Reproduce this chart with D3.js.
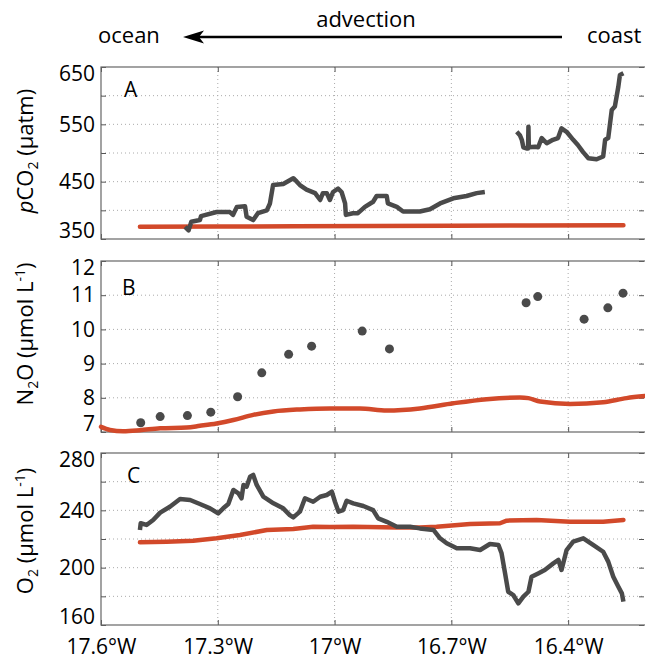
<!DOCTYPE html>
<html>
<head>
<meta charset="utf-8">
<script src="https://cdn.jsdelivr.net/npm/d3@7/dist/d3.min.js"></script>
<style>
  body { margin: 0; background: #fff; }
  text { font-family: 'Open Sans', sans-serif; fill: #000; }
</style>
</head>
<body>
<div id="chart"></div>
<script>
/* global d3 */

// x axis (longitude, negative = west)
var lonTicks = [-17.6, -17.3, -17.0, -16.7, -16.4];
var lonTickLabels = ['17.6°W', '17.3°W', '17°W', '16.7°W', '16.4°W'];

// A: pCO2 observed (null = gap in the record)
var pco2Lon = [-17.384, -17.375, -17.368, -17.346, -17.343, -17.303, -17.269, -17.261, -17.251, -17.230,
  -17.226, -17.209, -17.197, -17.174, -17.166, -17.158, -17.132, -17.106, -17.097, -17.089,
  -17.072, -17.050, -17.037, -17.030, -17.020, -17.012, -17.004, -16.991, -16.982, -16.973,
  -16.971, -16.953, -16.940, -16.922, -16.901, -16.892, -16.866, -16.863, -16.840, -16.824,
  -16.781, -16.755, -16.729, -16.695, -16.661, -16.635, -16.614, -16.570,
  -16.532, -16.524, -16.519, -16.515, -16.507, -16.503, -16.502, -16.501, -16.485, -16.477,
  -16.468, -16.455, -16.439, -16.426, -16.417, -16.404, -16.387, -16.375, -16.362, -16.348,
  -16.327, -16.310, -16.305, -16.297, -16.288, -16.280, -16.271, -16.267, -16.258];
var pco2Obs = [371, 365, 380, 383, 390, 397, 397, 392, 406, 407,
  389, 383, 395, 400, 412, 444, 446, 456, 450, 444,
  436, 430, 418, 430, 430, 418, 432, 438, 432, 412,
  392, 395, 395, 406, 415, 425, 425, 412, 406, 398,
  398, 402, 412, 421, 425, 430, 432, null,
  537, 531, 523, 510, 508, 508, 546, 510, 511, 510,
  526, 517, 523, 526, 543, 537, 523, 514, 502, 491,
  489, 494, 523, 526, 575, 581, 616, 636, 639];
// A: pCO2 reference (red)
var pco2RefLon = [-17.500, -17.300, -17.100, -16.900, -16.700, -16.500, -16.258];
var pco2Ref = [371.5, 371.8, 372.2, 372.5, 373.0, 373.6, 374.0];

// B: N2O observed (dots)
var n2oLon = [-17.498, -17.448, -17.378, -17.318, -17.249, -17.187, -17.118, -17.059,
  -16.929, -16.859, -16.508, -16.478, -16.359, -16.298, -16.259];
var n2oObs = [7.27, 7.45, 7.48, 7.58, 8.03, 8.73, 9.27, 9.51,
  9.95, 9.43, 10.78, 10.96, 10.30, 10.63, 11.06];
// B: N2O reference (red)
var n2oRefLon = [-17.600, -17.577, -17.543, -17.500, -17.448, -17.380, -17.346, -17.303, -17.260,
  -17.209, -17.157, -17.089, -17.012, -16.935, -16.866, -16.781, -16.695, -16.609, -16.524,
  -16.502, -16.472, -16.395, -16.310, -16.250, -16.203];
var n2oRef = [7.15, 7.06, 7.02, 7.05, 7.11, 7.13, 7.18, 7.25, 7.35,
  7.50, 7.60, 7.66, 7.69, 7.69, 7.63, 7.69, 7.84, 7.96, 8.01,
  7.99, 7.89, 7.82, 7.87, 7.99, 8.05];

// C: O2 observed
var o2Lon = [-17.500, -17.498, -17.483, -17.466, -17.448, -17.423, -17.397, -17.371, -17.346, -17.320,
  -17.299, -17.286, -17.273, -17.260, -17.247, -17.239, -17.234, -17.226, -17.217, -17.209,
  -17.200, -17.183, -17.157, -17.132, -17.115, -17.106, -17.089, -17.076, -17.055, -17.037,
  -17.020, -17.007, -16.999, -16.990, -16.978, -16.969, -16.952, -16.926, -16.901, -16.888,
  -16.866, -16.840, -16.806, -16.781, -16.746, -16.729, -16.712, -16.686, -16.652, -16.626,
  -16.601, -16.579, -16.571, -16.562, -16.554, -16.541, -16.528, -16.515, -16.502, -16.494,
  -16.477, -16.460, -16.438, -16.425, -16.417, -16.404, -16.387, -16.361, -16.335, -16.310,
  -16.297, -16.284, -16.271, -16.262, -16.258];
var o2Obs = [226.3, 231.0, 229.8, 233.3, 238.4, 242.5, 247.9, 247.2, 244.4, 241.4,
  237.9, 241.4, 244.4, 254.2, 251.9, 248.4, 257.7, 256.5, 263.5, 264.7,
  257.7, 249.5, 244.9, 241.4, 236.7, 235.1, 239.1, 248.4, 246.0, 249.5,
  250.7, 253.0, 246.0, 239.1, 240.2, 246.7, 244.9, 243.0, 240.2, 234.4,
  232.0, 228.6, 228.6, 227.4, 226.3, 220.5, 217.0, 213.5, 213.5, 212.3,
  216.5, 215.8, 210.0, 196.0, 183.2, 180.9, 175.1, 179.8, 183.2, 193.7,
  196.0, 198.4, 203.0, 205.4, 198.4, 212.3, 218.1, 220.5, 215.8, 211.1,
  204.2, 193.7, 186.7, 182.1, 176.3];
// C: O2 reference (red)
var o2RefLon = [-17.500, -17.431, -17.363, -17.303, -17.243, -17.174, -17.106, -17.055, -17.012,
  -16.952, -16.840, -16.781, -16.738, -16.652, -16.575, -16.558, -16.481, -16.395, -16.310, -16.258];
var o2Ref = [217.7, 218.1, 218.8, 220.5, 222.8, 226.3, 227.0, 228.6, 228.4,
  228.6, 228.1, 228.1, 228.6, 230.5, 231.0, 232.8, 233.3, 232.1, 232.1, 233.3];

// y ticks per panel
var pco2Ticks = [350, 400, 450, 500, 550, 600, 650];
var pco2TickLabels = ['350', '', '450', '', '550', '', '650'];
var n2oTicks = [7, 8, 9, 10, 11, 12];
var n2oTickLabels = ['7', '8', '9', '10', '11', '12'];
var o2Ticks = [160, 180, 200, 220, 240, 260, 280];
var o2TickLabels = ['160', '', '200', '', '240', '', '280'];

// 全体の大きさ
var width = 645;
var height = 661;
var left = 101;
var right = 646;

var colorObs = '#4a4a4a';
var colorRef = '#d2492a';

var svg = d3.select('#chart').append('svg')
  .attr('width', width)
  .attr('height', height);

var xScale = d3.scaleLinear()
  .domain([-17.6, -16.2])
  .range([left, right]);

function zip(xs, ys) {
  return xs.map(function(d, i) {
    return { x: d, y: ys[i] };
  });
}

// 1パネルを描画する
function drawPanel(opt) {
  var yScale = d3.scaleLinear().domain(opt.domain).range([opt.bottom, opt.top]);
  var g = svg.append('g');
  var h = opt.bottom - opt.top;

  // グリッド
  g.selectAll('.vgrid')
    .data(lonTicks.slice(1))
    .enter()
    .append('line')
    .attr('x1', function(d) { return xScale(d); })
    .attr('x2', function(d) { return xScale(d); })
    .attr('y1', opt.top)
    .attr('y2', opt.bottom)
    .attr('stroke', '#aaa')
    .attr('stroke-width', 1)
    .attr('stroke-dasharray', '1,3');

  g.selectAll('.hgrid')
    .data(opt.ticks.slice(1, -1))
    .enter()
    .append('line')
    .attr('x1', left)
    .attr('x2', right)
    .attr('y1', function(d) { return yScale(d); })
    .attr('y2', function(d) { return yScale(d); })
    .attr('stroke', '#aaa')
    .attr('stroke-width', 1)
    .attr('stroke-dasharray', '1,3');

  // 軸
  var yaxis = d3.axisLeft(yScale)
    .tickValues(opt.ticks)
    .tickSize(-5)
    .tickPadding(6)
    .tickFormat(function(d, i) { return opt.tickLabels[i]; });
  var ya = g.append('g')
    .attr('transform', 'translate(' + left + ',0)')
    .call(yaxis);
  ya.select('.domain').remove();
  ya.selectAll('line').attr('stroke', '#555');
  ya.selectAll('text')
    .style('font-size', '21px')
    .attr('dy', function(d, i) {
      if (i === 0) return '-0.05em';
      if (i === opt.ticks.length - 1) return '0.62em';
      return '0.32em';
    });

  var yaxisR = d3.axisRight(yScale).tickValues(opt.ticks).tickSize(-5).tickFormat('');
  var yr = g.append('g').attr('transform', 'translate(' + (right - 2) + ',0)').call(yaxisR);
  yr.select('.domain').remove();
  yr.selectAll('line').attr('stroke', '#555');

  var xaxisB = d3.axisBottom(xScale)
    .tickValues(lonTicks)
    .tickSize(-5)
    .tickPadding(14)
    .tickFormat(function(d, i) { return opt.showX ? lonTickLabels[i] : ''; });
  var xb = g.append('g').attr('transform', 'translate(0,' + opt.bottom + ')').call(xaxisB);
  xb.select('.domain').remove();
  xb.selectAll('line').attr('stroke', '#555');
  xb.selectAll('text').style('font-size', '21px');

  var xaxisT = d3.axisTop(xScale).tickValues(lonTicks).tickSize(-5).tickFormat('');
  var xt = g.append('g').attr('transform', 'translate(0,' + opt.top + ')').call(xaxisT);
  xt.select('.domain').remove();
  xt.selectAll('line').attr('stroke', '#555');

  // 枠
  g.append('rect')
    .attr('x', left)
    .attr('y', opt.top)
    .attr('width', right - left)
    .attr('height', h)
    .attr('fill', 'none')
    .attr('stroke', '#666')
    .attr('stroke-width', 1.2);

  var line = d3.line()
    .defined(function(d) { return d.y !== null; })
    .x(function(d) { return xScale(d.x); })
    .y(function(d) { return yScale(d.y); });

  // 赤い線（参照値）
  g.append('path')
    .datum(zip(opt.refLon, opt.ref))
    .attr('fill', 'none')
    .attr('stroke', colorRef)
    .attr('stroke-width', 4.5)
    .attr('stroke-linejoin', 'round')
    .attr('stroke-linecap', 'round')
    .attr('d', opt.smooth ? line.curve(d3.curveMonotoneX) : line);

  line.curve(d3.curveLinear);

  // 観測値
  if (opt.dots) {
    g.selectAll('.dot')
      .data(zip(opt.obsLon, opt.obs))
      .enter()
      .append('circle')
      .attr('cx', function(d) { return xScale(d.x); })
      .attr('cy', function(d) { return yScale(d.y); })
      .attr('r', 4.5)
      .attr('fill', colorObs);
  } else {
    g.append('path')
      .datum(zip(opt.obsLon, opt.obs))
      .attr('fill', 'none')
      .attr('stroke', colorObs)
      .attr('stroke-width', 4.5)
      .attr('stroke-linejoin', 'round')
      .attr('d', line);
  }

  // パネル記号
  g.append('text')
    .attr('x', opt.letterX)
    .attr('y', opt.letterY)
    .style('font-size', '21px')
    .text(opt.letter);

  // y軸タイトル
  var t = g.append('text')
    .attr('transform', 'translate(33,' + opt.titleY + ') rotate(-90)')
    .attr('text-anchor', 'middle')
    .style('font-size', '22px');
  opt.title(t);
}

// 下付き文字のあとに続く文字列
function subThen(t, s, rest) {
  t.append('tspan').attr('dy', 5).style('font-size', '14px').text(s);
  t.append('tspan').attr('dy', -5).text(rest);
}

function supClose(t) {
  t.append('tspan').attr('dy', -8).style('font-size', '14px').text('-1');
  t.append('tspan').attr('dy', 8).text(')');
}

drawPanel({
  top: 67, bottom: 239, domain: [350, 650],
  ticks: pco2Ticks, tickLabels: pco2TickLabels,
  obsLon: pco2Lon, obs: pco2Obs, refLon: pco2RefLon, ref: pco2Ref,
  letter: 'A', letterX: 124, letterY: 97, titleY: 151,
  title: function(t) {
    t.append('tspan').style('font-style', 'italic').text('p');
    t.append('tspan').text('CO');
    subThen(t, '2', ' (µatm)');
  }
});

drawPanel({
  top: 261, bottom: 432, domain: [7, 12],
  ticks: n2oTicks, tickLabels: n2oTickLabels,
  obsLon: n2oLon, obs: n2oObs, refLon: n2oRefLon, ref: n2oRef,
  dots: true, smooth: true,
  letter: 'B', letterX: 122, letterY: 295, titleY: 334,
  title: function(t) {
    t.append('tspan').text('N');
    subThen(t, '2', 'O (µmol L');
    supClose(t);
  }
});

drawPanel({
  top: 453, bottom: 625, domain: [160, 280],
  ticks: o2Ticks, tickLabels: o2TickLabels,
  obsLon: o2Lon, obs: o2Obs, refLon: o2RefLon, ref: o2Ref,
  showX: true,
  letter: 'C', letterX: 127, letterY: 483, titleY: 531,
  title: function(t) {
    t.append('tspan').text('O');
    subThen(t, '2', ' (µmol L');
    supClose(t);
  }
});

// 上部の矢印 (advection)
var header = svg.append('g');
header.append('text').attr('x', 98).attr('y', 43).style('font-size', '22px').text('ocean');
header.append('text').attr('x', 366).attr('y', 27).attr('text-anchor', 'middle').style('font-size', '22px').text('advection');
header.append('text').attr('x', 587).attr('y', 43).style('font-size', '22px').text('coast');
header.append('line')
  .attr('x1', 196).attr('x2', 562)
  .attr('y1', 37).attr('y2', 37)
  .attr('stroke', '#000')
  .attr('stroke-width', 2.5);
header.append('path')
  .attr('d', 'M183,37 L204,30.5 L199,37 L204,43.5 Z')
  .attr('fill', '#000');
</script>
</body>
</html>
